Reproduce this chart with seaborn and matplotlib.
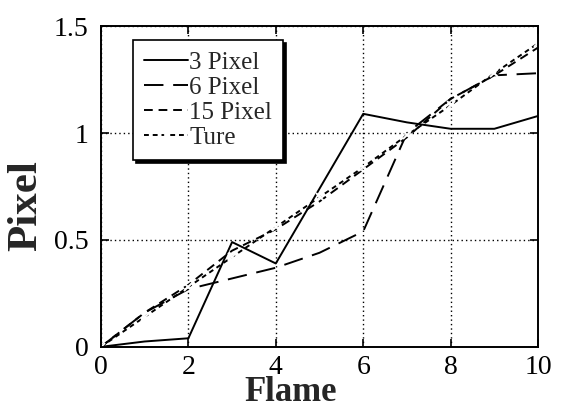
import matplotlib
matplotlib.use("Agg")
import matplotlib.pyplot as plt
import seaborn as sns
import pandas as pd

frames = [0, 1, 2, 3, 4, 5, 6, 7, 8, 9, 10]
pix3 = [0, 0.025, 0.04, 0.49, 0.39, 0.74, 1.09, 1.05, 1.02, 1.02, 1.08]
pix6 = [0, 0.16, 0.27, 0.32, 0.37, 0.44, 0.54, 1.0, 1.16, 1.27, 1.28]
pix15 = [0, 0.16, 0.29, 0.45, 0.55, 0.68, 0.83, 0.98, 1.16, 1.27, 1.40]
ture = [0, 0.14, 0.28, 0.42, 0.56, 0.70, 0.84, 0.99, 1.13, 1.28, 1.42]
series_names = ["3 Pixel", "6 Pixel", "15 Pixel", "Ture"]
xticks = [0, 2, 4, 6, 8, 10]
yticks = [0, 0.5, 1, 1.5]
ytick_labels = ["0", "0.5", "1", "1.5"]

sns.set_theme(style="white")
plt.rcParams["font.family"] = ["Liberation Serif", "DejaVu Serif"]

df = pd.DataFrame({
    "Flame": frames * 4,
    "Pixel": pix3 + pix6 + pix15 + ture,
    "series": sum([[n] * len(frames) for n in series_names], []),
})

fig = plt.figure(figsize=(5.64, 4.09), dpi=100)
ax = fig.add_axes([0.179, 0.152, 0.775, 0.784])

styles = {
    "3 Pixel": dict(dashes=None, marker=None),
    "6 Pixel": dict(dashes=(10, 5), marker=None),
    "15 Pixel": dict(dashes=(4.5, 3), marker=None),
    "Ture": dict(dashes=(2.5, 2), marker="x"),
}

handles = []
for name in series_names:
    sub = df[df["series"] == name]
    st = styles[name]
    sns.lineplot(data=sub, x="Flame", y="Pixel", ax=ax, color="black",
                 linewidth=1.4, marker=st["marker"], markersize=6,
                 markeredgewidth=1.4, label=name, legend=False)
    line = ax.lines[-1]
    if st["dashes"] is not None:
        line.set_dashes(st["dashes"])
    handles.append(line)

ax.set_xlim(0, 10)
ax.set_ylim(0, 1.5)
ax.set_xticks(xticks)
ax.set_xticklabels([str(t) for t in xticks])
ax.set_yticks(yticks)
ax.set_yticklabels(ytick_labels)
ax.grid(True, color="black", linestyle=(0, (1, 2.2)), linewidth=1.0)
ax.tick_params(axis="both", direction="in", length=6, width=1.2,
               labelsize=20, colors="black", top=True, right=True,
               bottom=True, left=True)
ax.tick_params(axis="x", pad=6)
ax.tick_params(axis="y", pad=9)
for sp in ax.spines.values():
    sp.set_color("black")
    sp.set_linewidth(1.4)

ax.set_xlabel("Flame", fontsize=25, fontweight="bold",
              verticalalignment="baseline")
ax.xaxis.set_label_coords(0.433, -0.168)
ax.set_ylabel("Pixel", fontsize=31, fontweight="bold")
ax.yaxis.set_label_coords(-0.128, 0.44)

leg = ax.legend(handles=handles, labels=series_names, loc="upper left",
                bbox_to_anchor=(0.073, 0.956), fontsize=18, frameon=True,
                fancybox=False, handlelength=1.75, handletextpad=0.05,
                labelspacing=0.1, borderpad=0.45, borderaxespad=0,
                shadow={"color": "black", "alpha": 1.0})
leg.get_frame().set_edgecolor("black")
leg.get_frame().set_linewidth(1.2)
leg.get_frame().set_alpha(1.0)

fig.savefig("out.png", dpi=100)
